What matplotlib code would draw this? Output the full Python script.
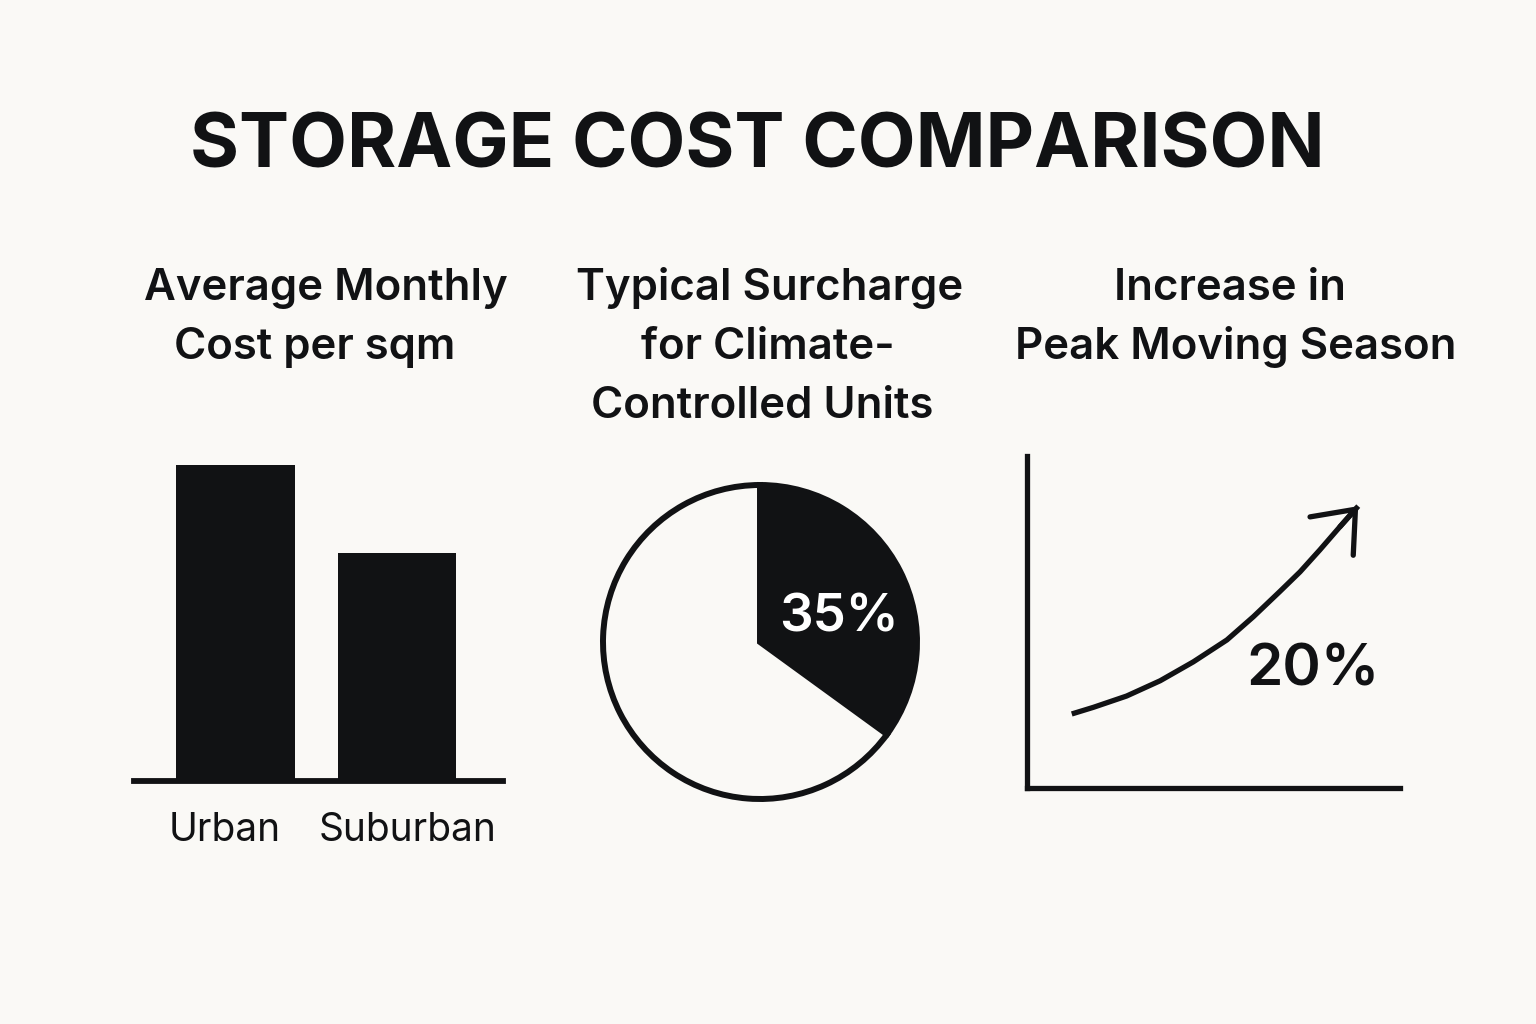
import numpy as np
import matplotlib.pyplot as plt

# data
bar_labels = ['Urban', 'Suburban']
bar_values = [100, 72]          # relative monthly cost per sqm

pie_values = [35, 65]           # climate-controlled surcharge share
pie_label = '35%'

# peak-season curve, read along the drawn arrow
curve_x = [1.20, 1.78, 2.67, 3.57, 4.46, 5.36, 6.07, 6.78, 7.32, 7.85, 8.39, 8.88]
curve_y = [2.23, 2.43, 2.77, 3.23, 3.80, 4.46, 5.16, 5.92, 6.51, 7.17, 7.87, 8.49]
curve_label = '20%'

title = 'STORAGE COST COMPARISON'
panel_titles = [
    ['Average Monthly', 'Cost per sqm'],
    ['Typical Surcharge', 'for Climate-', 'Controlled Units'],
    ['Increase in', 'Peak Moving Season'],
]
# horizontal centre of each title line (px), lines are not quite centred
panel_title_x = [[326, 315], [770, 768, 762], [1230, 1236]]

BG = '#faf9f6'
INK = '#111214'
W, H = 1536, 1024

plt.rcParams['font.family'] = ['Inter', 'DejaVu Sans']

fig = plt.figure(figsize=(W / 100, H / 100), dpi=100, facecolor=BG)


def px_rect(left, top, right, bottom):
    # pixel box -> figure fraction rect
    return [left / W, 1 - bottom / H, (right - left) / W, (bottom - top) / H]


# title
fig.text(757 / W, 1 - 167 / H, title, ha='center', va='baseline',
         fontsize=54, fontweight='bold', color=INK)

# panel titles, one line at a time
for xs, lines in zip(panel_title_x, panel_titles):
    for i, (cx, line) in enumerate(zip(xs, lines)):
        fig.text(cx / W, 1 - (300 + 59 * i) / H, line, ha='center',
                 va='baseline', fontsize=31.5, fontweight='semibold', color=INK)

# --- bar panel ---
ax1 = fig.add_axes(px_rect(134, 440, 503, 781))
ax1.set_facecolor('none')
x = np.arange(len(bar_values))
ax1.bar(x, bar_values, width=0.733, color=INK)
ax1.set_xlim(-0.630, 1.661)
ax1.set_ylim(0, 100 * 341 / 316)
for s in ['left', 'right', 'top']:
    ax1.spines[s].set_visible(False)
ax1.spines['bottom'].set_linewidth(4.2)
ax1.spines['bottom'].set_color(INK)
ax1.set_yticks([])
ax1.set_xticks([])
for xi, lab in zip([-0.07, 1.07], bar_labels):
    ax1.annotate(lab, (xi, 0), xycoords=('data', 'axes fraction'),
                 xytext=(0, -22), textcoords='offset points',
                 ha='center', va='top', fontsize=28, color=INK)

# --- pie panel ---
r = 157
ax2 = fig.add_axes(px_rect(760 - 1.25 * r, 642 - 1.25 * r, 760 + 1.25 * r, 642 + 1.25 * r))
ax2.pie(pie_values, colors=[INK, BG], startangle=90, counterclock=False,
        wedgeprops=dict(edgecolor=INK, linewidth=4.3))
ax2.text(0.50, 0.15, pie_label, ha='center', va='center', fontsize=38,
         fontweight='semibold', color='white')

# --- line panel ---
ax3 = fig.add_axes(px_rect(1027, 456, 1400, 788))
ax3.set_facecolor('none')
ax3.plot(curve_x, curve_y, color=INK, lw=3.8, solid_capstyle='butt',
         solid_joinstyle='round')
ax3.annotate('', xy=(curve_x[-1], curve_y[-1]), xytext=(curve_x[-2], curve_y[-2]),
             arrowprops=dict(arrowstyle='->,head_length=1.29,head_width=1.04',
                             color=INK, lw=3.8, shrinkA=0, shrinkB=0,
                             mutation_scale=20))
ax3.set_xlim(0, 10)
ax3.set_ylim(0, 10)
for s in ['right', 'top']:
    ax3.spines[s].set_visible(False)
for s in ['left', 'bottom']:
    ax3.spines[s].set_linewidth(3.8)
    ax3.spines[s].set_color(INK)
ax3.set_xticks([])
ax3.set_yticks([])
ax3.text(7.67, 3.55, curve_label, ha='center', va='center', fontsize=42,
         fontweight='semibold', color=INK)

fig.savefig('out.png', dpi=100, facecolor=BG)
